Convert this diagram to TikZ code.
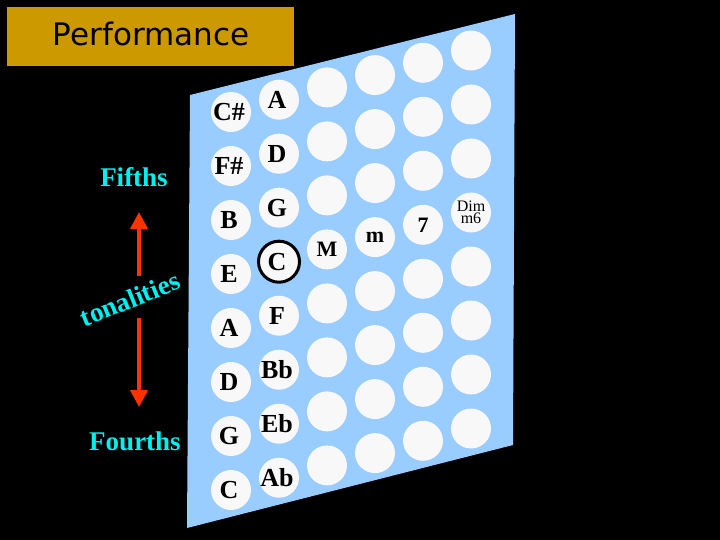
\documentclass[tikz,border=0pt]{standalone}
\usepackage{fontspec}
\setmainfont{Liberation Serif}
\newfontfamily\titlefont{DejaVu Sans}
\usetikzlibrary{arrows.meta}
\definecolor{gold}{RGB}{204,153,0}
\definecolor{keyblue}{RGB}{153,204,255}
\definecolor{keywhite}{RGB}{248,248,248}
\definecolor{tonecyan}{RGB}{0,240,240}
\definecolor{tonered}{RGB}{255,51,0}

\begin{document}
\begin{tikzpicture}[x=1pt,y=-1pt,
  key/.style={circle,fill=keywhite,minimum size=40pt,inner sep=0pt},
  note/.style={font=\fontsize{26}{26}\selectfont\bfseries,xshift=-2pt},
  chord/.style={font=\fontsize{22}{22}\selectfont\bfseries},
  side/.style={text=tonecyan,font=\fontsize{27}{27}\selectfont\bfseries},
  tonearrow/.style={tonered,line width=4pt,-{Triangle[width=17pt,length=17pt]}}]
  \fill[black] (0,0) rectangle (720,540);
  \fill[gold] (7,7) rectangle (294,66);
  \node[anchor=base,font=\titlefont\fontsize{31}{31}\selectfont] (title) at (151,45.7) {Performance};

  \fill[keyblue] (190,95) -- (515,14) -- (513,445) -- (187,528) -- cycle;
  % buttons: 6 columns of 8
  \foreach \c in {0,...,5}
    \foreach \r in {0,...,7}
      \node[key] (k\c\r) at ({231+48*\c},{112-12.3*\c+54*\r}) {};
  \draw[line width=3pt] (k13) circle[radius=20.5];

  % bass and counterbass names
  \foreach \n [count=\r from 0] in {C\#,F\#,B,E,A,D,G,C}
    \node[note] (a\r) at (k0\r) {\n};
  \foreach \n [count=\r from 0] in {A,D,G,C,F,Bb,Eb,Ab}
    \node[note] (b\r) at (k1\r) {\n};

  % chords
  \node[chord] (major) at (k23) {M};
  \node[chord] (minor) at (k33) {m};
  \node[chord] (seventh) at (k43) {7};
  \node[align=center,font=\fontsize{16}{12}\selectfont] (dim) at (k53) {Dim\\m6};

  \node[side] (fifths) at (134,177) {Fifths};
  \node[side] (fourths) at (135,441) {Fourths};
  \node[side,rotate=22] (tonal) at (130,299) {tonalities};

  \coordinate (ax) at (139,0);
  \draw[tonearrow,shorten <=23pt,shorten >=35pt] (tonal -| ax) -- (fifths -| ax);
  \draw[tonearrow,shorten <=19pt,shorten >=34pt] (tonal -| ax) -- (fourths -| ax);
\end{tikzpicture}
\end{document}
